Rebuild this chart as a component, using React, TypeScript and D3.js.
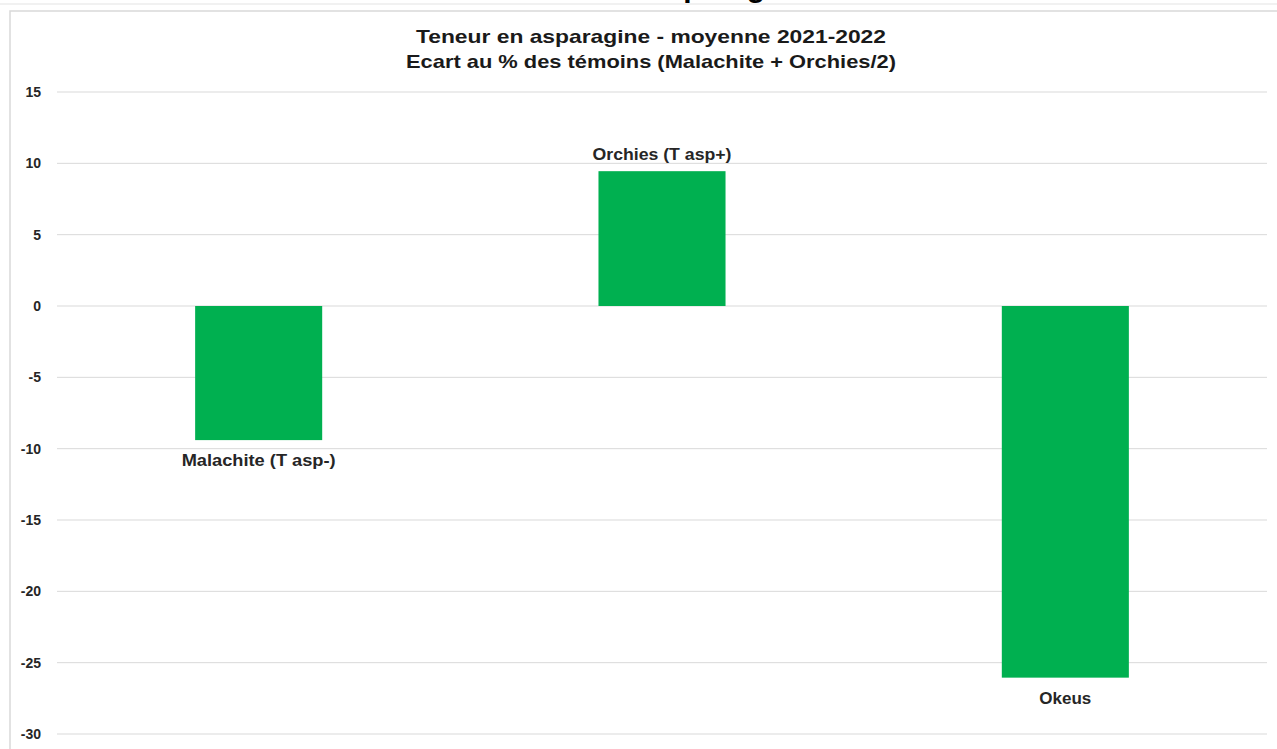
import React from 'react';
import * as d3 from 'd3';

// values (% deviation from controls)
const varieties = ['Malachite (T asp-)', 'Orchies (T asp+)', 'Okeus'];
const deviation = [-9.4, 9.45, -26.05];
const yTicks = [15, 10, 5, 0, -5, -10, -15, -20, -25, -30];
const titleLines = [
  'Teneur en asparagine - moyenne 2021-2022',
  'Ecart au % des témoins (Malachite + Orchies/2)',
];
// measured widths of the Calibri text in the reference, used to fit the fallback font
const titleWidths = [470, 490];
const labelWidths = [154, 139, 52];

const width = 1277;
const height = 749;
const margin = { top: 92, right: 10, bottom: 15, left: 57 };
const font = '"Liberation Sans", Arial, sans-serif';

const App: React.FC = () => {
  const x = d3
    .scaleBand<string>()
    .domain(varieties)
    .range([margin.left, width - margin.right])
    .paddingInner(0.685)
    .paddingOuter(0.3425);

  const y = d3
    .scaleLinear()
    .domain([-30, 15])
    .range([734, margin.top]);

  return (
    <svg
      width={width}
      height={height}
      style={{ position: 'absolute', left: 0, top: 0, background: '#fff' }}
    >
      {/* clipped remnant of the slide title above the chart */}
      <text x={650} y={-3} fontFamily={font} fontWeight="bold" fontSize={30} fill="#000">
        asparagine
      </text>
      <line x1={0} x2={width} y1={4} y2={4} stroke="#ececec" strokeWidth={1.5} />

      {/* chart frame */}
      <rect x={10} y={11} width={width + 20} height={height + 20} fill="#fff" stroke="#d9d9d9" strokeWidth={1.5} />

      {/* titles */}
      {titleLines.map((t, i) => (
        <text
          key={t}
          x={651}
          y={43 + i * 25}
          textAnchor="middle"
          fontFamily={font}
          fontWeight="bold"
          fontSize={19}
          textLength={titleWidths[i]}
          lengthAdjust="spacingAndGlyphs"
          fill="#1a1a1a"
        >
          {t}
        </text>
      ))}

      {/* gridlines + y tick labels */}
      {yTicks.map((t) => (
        <g key={t}>
          <line
            x1={margin.left}
            x2={width - margin.right}
            y1={y(t)}
            y2={y(t)}
            stroke="#d9d9d9"
            strokeWidth={1}
          />
          <text
            x={41}
            y={y(t)}
            dy="0.36em"
            textAnchor="end"
            fontFamily={font}
            fontWeight="bold"
            fontSize={14}
            fill="#262626"
          >
            {t}
          </text>
        </g>
      ))}

      {/* bars */}
      {varieties.map((v, i) => {
        const val = deviation[i];
        const y0 = y(0);
        const y1 = y(val);
        const top = Math.min(y0, y1);
        const h = Math.abs(y1 - y0);
        const cx = (x(v) ?? 0) + x.bandwidth() / 2;
        return (
          <g key={v}>
            <rect x={x(v)} y={top} width={x.bandwidth()} height={h} fill="#00b050" />
            <text
              x={cx}
              y={val >= 0 ? y1 - 11 : y1 + 26}
              textAnchor="middle"
              fontFamily={font}
              fontWeight="bold"
              fontSize={16}
              textLength={labelWidths[i]}
              lengthAdjust="spacingAndGlyphs"
              fill="#262626"
            >
              {v}
            </text>
          </g>
        );
      })}
    </svg>
  );
};

export default App;
